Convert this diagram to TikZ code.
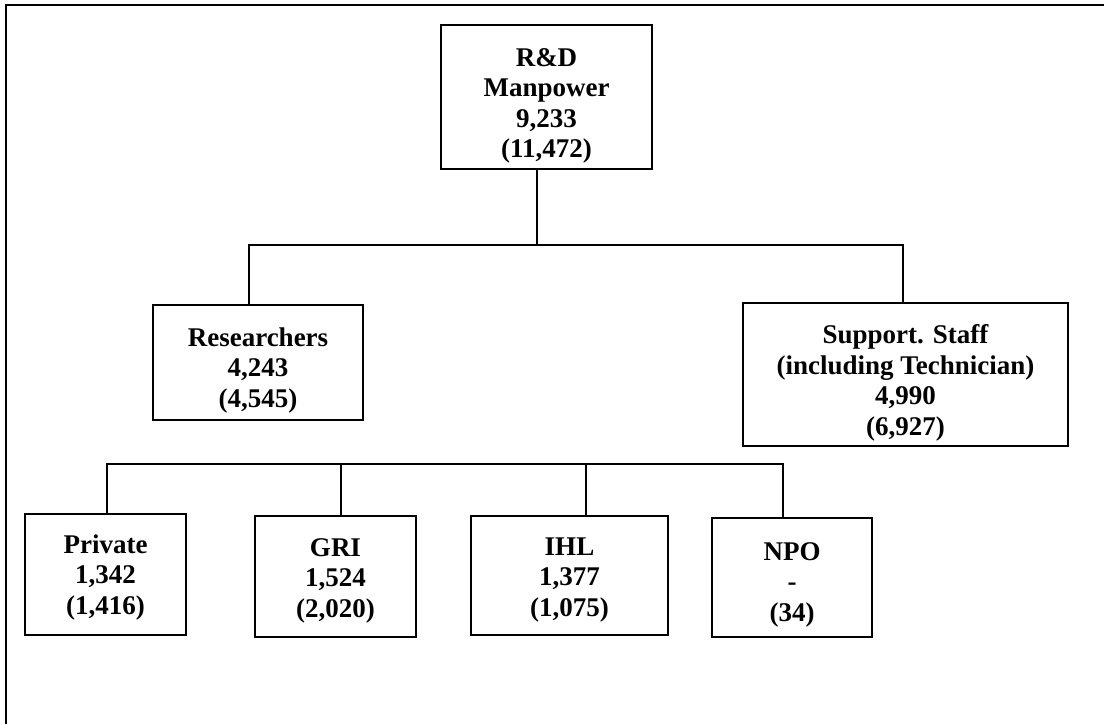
\documentclass[tikz,border=0pt]{standalone}
\usepackage{fontspec}
\setmainfont{Liberation Serif}
\usetikzlibrary{positioning}
\newcommand{\toppad}[1]{\rule{0pt}{#1pt}}

\begin{document}
\begin{tikzpicture}[x=1pt,y=-1pt,
              unit/.style={draw, line width=1.5pt, align=center, inner sep=0pt,
                           font=\fontsize{27}{30.5}\selectfont\bfseries},
              link/.style={line width=1.5pt},
              frame/.style={line width=2pt},
             ]
\useasboundingbox (0,0) rectangle (1104,724);
\draw[frame] (6,724) -- (6,5) -- (1104,5);
% boxes
\node[unit, minimum width=211pt, minimum height=144pt] (rd) at (546.5,97) {\toppad{36}R\&D\\Manpower\\9,233\\(11,472)};
\node[unit, minimum width=210pt, minimum height=115pt] (res) at (258,362.5) {\toppad{34}Researchers\\4,243\\(4,545)};
\node[unit, minimum width=325pt, minimum height=143pt] (sup) at (905.5,374.5) {\toppad{36}Support. Staff\\(including Technician)\\4,990\\(6,927)};
\node[unit, minimum width=161pt, minimum height=121pt] (priv) at (105.5,574.5) {\toppad{24}Private\\1,342\\(1,416)};
\node[unit, minimum width=161pt, minimum height=121pt] (gri) at (335.5,576.5) {\toppad{26}GRI\\1,524\\(2,020)};
\node[unit, minimum width=197pt, minimum height=119pt] (ihl) at (569.5,575.5) {\toppad{26}IHL\\1,377\\(1,075)};
\node[unit, minimum width=160pt, minimum height=119pt] (npo) at (792,577.5) {\toppad{32}NPO\\-\\(34)};
% upper bus
\coordinate (busM) at (537,245);
\coordinate (busL) at (249,245);
\coordinate (busR) at (903,245);
\draw[link] (rd.south -| busM) -- (busM);
\draw[link] (busL |- res.north) -- (busL) -- (busR) -- (busR |- sup.north);
% lower bus
\coordinate (lowL) at (107,464);
\coordinate (lowG) at (341,464);
\coordinate (lowI) at (586,464);
\coordinate (lowR) at (783,464);
\draw[link] (priv.north -| lowL) -- (lowL) -- (lowR) -- (lowR |- npo.north);
\draw[link] (lowG) -- (lowG |- gri.north);
\draw[link] (lowI) -- (lowI |- ihl.north);
\end{tikzpicture}
\end{document}
